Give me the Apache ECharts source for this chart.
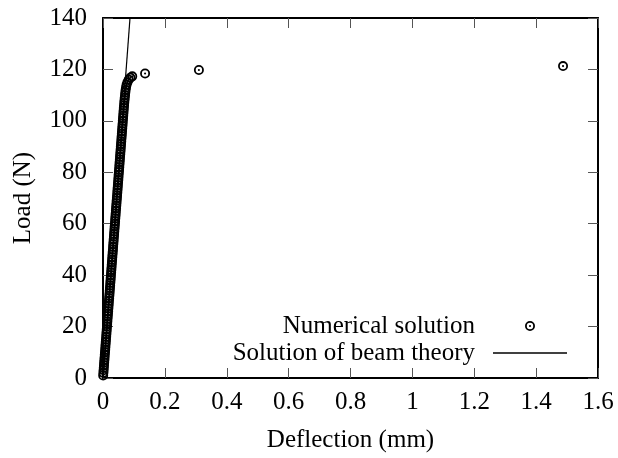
<!DOCTYPE html>
<html>
<head>
<meta charset="utf-8">
<script src="https://cdn.jsdelivr.net/npm/echarts@6/dist/echarts.min.js"></script>
<style>html,body{margin:0;padding:0;background:#fff;}#c{width:618px;height:458px;}</style>
</head>
<body>
<div id="c"></div>
<script>
// Numerical solution (deflection mm, load N)
var numDeflection = [0.0006,0.0013,0.0019,0.0026,0.0032,0.0038,0.0045,0.0051,0.0058,0.0064,
  0.0071,0.0077,0.0083,0.0090,0.0096,0.0103,0.0109,0.0115,0.0122,0.0128,
  0.0135,0.0141,0.0147,0.0154,0.0160,0.0167,0.0173,0.0179,0.0186,0.0192,
  0.0199,0.0205,0.0212,0.0218,0.0224,0.0231,0.0237,0.0244,0.0250,0.0256,
  0.0263,0.0269,0.0276,0.0282,0.0288,0.0295,0.0301,0.0308,0.0314,0.0321,
  0.0327,0.0333,0.0340,0.0346,0.0353,0.0359,0.0365,0.0372,0.0378,0.0385,
  0.0391,0.0397,0.0404,0.0410,0.0417,0.0423,0.0429,0.0436,0.0442,0.0449,
  0.0455,0.0462,0.0468,0.0474,0.0481,0.0487,0.0494,0.0500,0.0506,0.0513,
  0.0519,0.0526,0.0532,0.0538,0.0545,0.0551,0.0558,0.0564,0.0571,0.0577,
  0.0583,0.0590,0.0596,0.0603,0.0609,0.0615,0.0622,0.0628,0.0635,0.0641,
  0.0647,0.0654,0.0660,0.0667,0.0673,0.0680,0.0687,0.0695,0.0703,0.0712,
  0.0721,0.0731,0.0744,0.0762,0.0790,0.0830,0.0885,0.0945,
  0.1360,0.3100,1.4870];
var numLoad = [1,2,3,4,5,6,7,8,9,10,
  11,12,13,14,15,16,17,18,19,20,
  21,22,23,24,25,26,27,28,29,30,
  31,32,33,34,35,36,37,38,39,40,
  41,42,43,44,45,46,47,48,49,50,
  51,52,53,54,55,56,57,58,59,60,
  61,62,63,64,65,66,67,68,69,70,
  71,72,73,74,75,76,77,78,79,80,
  81,82,83,84,85,86,87,88,89,90,
  91,92,93,94,95,96,97,98,99,100,
  101,102,103,104,105,106,107,108,109,110,
  111,112,113,114,115,116,116.8,117.3,
  118.4,119.8,121.3];
// Beam theory line
var beamDeflection = [0, 0.0873];
var beamLoad = [0, 140];
var seriesNames = ['Numerical solution', 'Solution of beam theory'];
var xTicks = {min: 0, max: 1.6, interval: 0.2};
var yTicks = {min: 0, max: 140, interval: 20};

var numData = numDeflection.map(function (d, i) { return [d, numLoad[i]]; });
var beamData = beamDeflection.map(function (d, i) { return [d, beamLoad[i]]; });

var ringSymbol = 'path://M0,10 A10,10 0 1,1 20,10 A10,10 0 1,1 0,10 Z ' +
  'M3.6,10 A6.4,6.4 0 1,0 16.4,10 A6.4,6.4 0 1,0 3.6,10 Z ' +
  'M7.9,10 A2.1,2.1 0 1,1 12.1,10 A2.1,2.1 0 1,1 7.9,10 Z';

var font = 'Liberation Serif';
var fs = 25;
var chart = echarts.init(document.getElementById('c'), null, {renderer: 'canvas'});
var tickStyle = {show: true, inside: true, length: 10, lineStyle: {color: '#555', width: 1}};
var axisLine = {show: true, onZero: false, lineStyle: {color: '#000', width: 2}};
chart.setOption({
  animation: false,
  backgroundColor: '#fff',
  grid: {left: 103, right: 20, top: 18, bottom: 80, containLabel: false},
  xAxis: [{
    type: 'value', min: xTicks.min, max: xTicks.max, interval: xTicks.interval,
    position: 'bottom',
    name: 'Deflection (mm)', nameLocation: 'middle', nameGap: 50,
    nameTextStyle: {fontFamily: font, fontSize: fs, color: '#000'},
    axisLine: axisLine, axisTick: tickStyle, splitLine: {show: false},
    axisLabel: {fontFamily: font, fontSize: fs, color: '#000', margin: 12}
  }, {
    type: 'value', min: xTicks.min, max: xTicks.max, interval: xTicks.interval,
    position: 'top', axisLine: axisLine, axisTick: tickStyle, splitLine: {show: false},
    axisLabel: {show: false}
  }],
  yAxis: [{
    type: 'value', min: yTicks.min, max: yTicks.max, interval: yTicks.interval,
    position: 'left',
    name: 'Load (N)', nameLocation: 'middle', nameGap: 67, nameRotate: 90,
    nameTextStyle: {fontFamily: font, fontSize: fs, color: '#000'},
    axisLine: axisLine, axisTick: tickStyle, splitLine: {show: false},
    axisLabel: {fontFamily: font, fontSize: fs, color: '#000', margin: 16}
  }, {
    type: 'value', min: yTicks.min, max: yTicks.max, interval: yTicks.interval,
    position: 'right', axisLine: axisLine, axisTick: tickStyle, splitLine: {show: false},
    axisLabel: {show: false}
  }],
  legend: [{
    orient: 'vertical', right: 83, top: 313, align: 'right', padding: 0,
    itemWidth: 10, itemHeight: 10, data: [seriesNames[0]],
    textStyle: {fontFamily: font, fontSize: fs, color: '#000', lineHeight: 26, padding: [0, 45, 0, 0]}
  }, {
    orient: 'vertical', right: 51, top: 340, align: 'right', padding: 0,
    itemWidth: 74, itemHeight: 1.3, icon: 'rect', data: [seriesNames[1]],
    textStyle: {fontFamily: font, fontSize: fs, color: '#000', lineHeight: 26, padding: [0, 13, 0, 0]}
  }],
  series: [{
    name: seriesNames[1], type: 'line', data: beamData,
    symbol: 'none', clip: true,
    lineStyle: {color: '#000', width: 1.2},
    itemStyle: {color: '#000'}
  }, {
    name: seriesNames[0], type: 'scatter', data: numData,
    symbol: ringSymbol, symbolSize: 10,
    itemStyle: {color: '#000', opacity: 1}
  }]
});
</script>
</body>
</html>
